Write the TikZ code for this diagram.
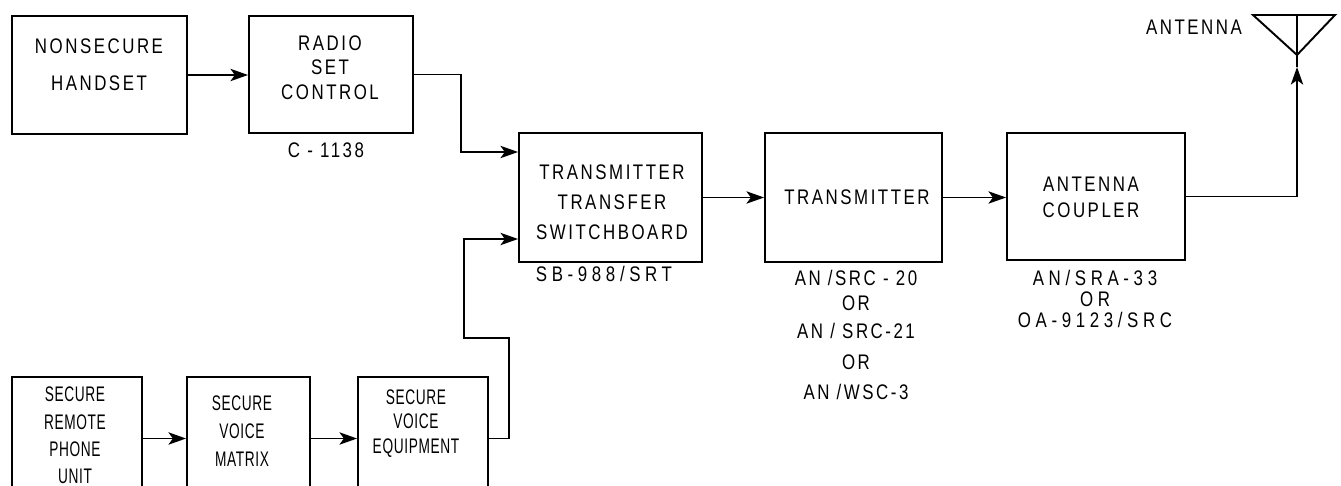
\documentclass[tikz,border=0pt]{standalone}
\usepackage{fontspec}
\setmainfont{Liberation Sans}[FakeStretch=0.8,LetterSpace=12]
\newfontfamily\narrowface{Liberation Sans}[FakeStretch=0.65,LetterSpace=3]
\newfontfamily\wideface{Liberation Sans}[FakeStretch=0.8,LetterSpace=22]
\usepackage{tikz}
\usetikzlibrary{arrows.meta,calc}
\tikzset{
  blk/.style={draw, line width=1.1pt, inner sep=0pt},
  txt/.style={align=center, font=\fontsize{12}{14}\selectfont, inner sep=0pt},
  txtn/.style={txt, font=\narrowface\fontsize{12}{14}\selectfont},
  txtw/.style={txt, font=\wideface\fontsize{12}{14}\selectfont},
  wire/.style={line width=1.1pt},
  link/.style={wire, -{Stealth[length=10pt,width=7pt,inset=2.5pt]}}
}

\begin{document}
\begin{tikzpicture}[x=0.02cm,y=-0.02cm]
  \useasboundingbox (0,0) rectangle (1341,486);
  \clip (0,0) rectangle (1341,486);

  % boxes, upper row
  \node[blk, minimum width=3.5cm,  minimum height=2.36cm] (nsh) at (99.5,75) {};
  \node[blk, minimum width=3.28cm, minimum height=2.34cm] (rsc) at (331,74.5) {};
  \node[blk, minimum width=3.66cm, minimum height=2.58cm] (tts) at (610.5,197.5) {};
  \node[blk, minimum width=3.54cm, minimum height=2.58cm] (trx) at (853.5,197.5) {};
  \node[blk, minimum width=3.56cm, minimum height=2.54cm] (acp) at (1096,196.5) {};

  % boxes, lower row (cut by the page edge)
  \node[blk, minimum width=2.6cm,  minimum height=2.46cm] (srp) at (77,438.5) {};
  \node[blk, minimum width=2.46cm, minimum height=2.46cm] (svm) at (248.5,438.5) {};
  \node[blk, minimum width=2.6cm,  minimum height=2.46cm] (sve) at (423,438.5) {};

  % box texts
  \node[txt] (nsh-t) at (99,64.5) {NONSECURE\\[7pt]HANDSET};
  \node[txt] (rsc-t) at (330,67.5) {RADIO\\SET\\CONTROL};
  \node[txt] (tts-t) at (612,202) {TRANSMITTER\\[3pt]TRANSFER\\[3pt]SWITCHBOARD};
  \node[txt] (trx-t) at (857,197) {TRANSMITTER};
  \node[txt] (acp-t) at (1091,197.5) {ANTENNA\\[1pt]COUPLER};
  \node[txtn] (srp-t) at (75,435.5) {SECURE\\[1.5pt]REMOTE\\[1.5pt]PHONE\\[1.5pt]UNIT};
  \node[txtn] (svm-t) at (242,431) {SECURE\\[2pt]VOICE\\[2pt]MATRIX};
  \node[txtn] (sve-t) at (416,423.5) {SECURE\\VOICE\\EQUIPMENT};

  % type numbers
  \node[txt] (rsc-n) at (326,150.5) {C - 1138};
  \node[txtw] (tts-n) at (604,274) {SB-988/SRT};
  \node[txt] (trx-n) at (856,335) {AN /SRC - 20\\OR\\[2pt]AN / SRC-21\\[4pt]OR\\[3pt]AN /WSC-3};
  \node[txtw] (acp-n) at (1095,299) {AN/SRA-33\\[-2pt]OR\\[-2pt]OA-9123/SRC};

  % antenna
  \coordinate (ant-l) at (1253,15);
  \coordinate (ant-r) at (1335,15);
  \coordinate (ant-top) at (1297,15);
  \coordinate (ant-apex) at (1297,55);
  \coordinate (ant-tip) at (1297,67);
  \draw[wire] (ant-l) -- (ant-r) -- (ant-apex) -- cycle;
  \draw[wire] (ant-top) -- (ant-apex);
  \draw[wire] (ant-tip) -- (ant-apex);
  \node[txt] (ant-t) at (1194,27.5) {ANTENNA};

  % inputs of the switchboard
  \coordinate (tts-in1) at ($(tts.west)+(0,-45.5)$);
  \coordinate (tts-in2) at ($(tts.west)+(0,41.5)$);

  % connectors
  \draw[link] (nsh.east) -- (nsh.east -| rsc.west);
  \draw[link] (rsc.east) -- ++(47,0) |- (tts-in1);
  \draw[link] (tts.east) -- (trx.west);
  \draw[link] (trx.east) -- (trx.east -| acp.west);
  \draw[link] (acp.east) -| (ant-tip);
  \draw[link] (srp.east) -- (svm.west);
  \draw[link] (svm.east) -- (sve.west);
  \draw[link] (sve.east) -- ++(20,0) -- ++(0,-100.5) -- ++(-45,0) |- (tts-in2);
\end{tikzpicture}
\end{document}
